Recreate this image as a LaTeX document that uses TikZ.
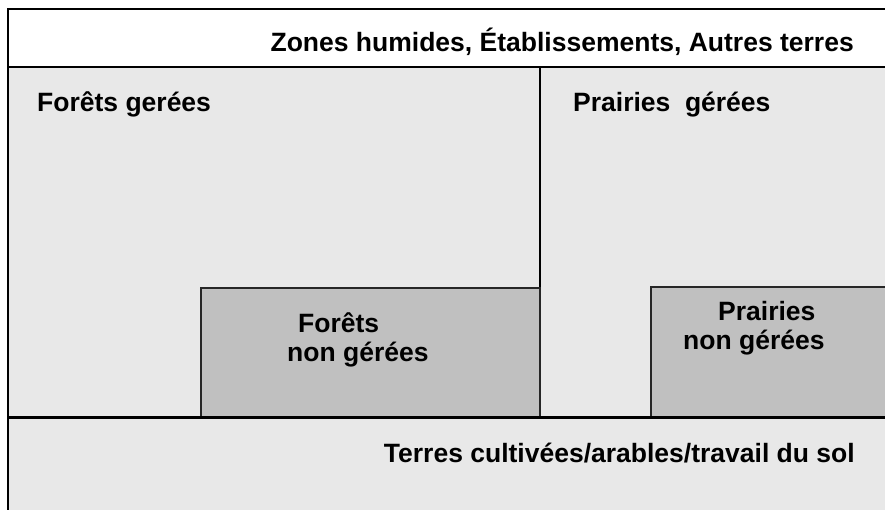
\documentclass[tikz,border=0pt]{standalone}
\usepackage{fontspec}
\setmainfont{Liberation Sans}
\usetikzlibrary{positioning}
\definecolor{zonegray}{HTML}{E8E8E8}
\definecolor{boxgray}{HTML}{C0C0C0}

\begin{document}
\begin{tikzpicture}[x=1pt,y=-1pt,
        frameline/.style={draw=black, line width=2.2pt},
        subbox/.style={fill=boxgray, draw=black!85, line width=1.8pt},
        lbl/.style={inner sep=0pt, font=\fontsize{26.5}{28.5}\selectfont\bfseries}]
    \useasboundingbox (0,0) rectangle (885,510);
    \clip (0,0) rectangle (885,510);
    % main zones
    \fill[zonegray] (8,67) rectangle (895,520);
    \draw[frameline] (8,520) -- (8,9) -- (895,9);
    \draw[frameline] (8,67) -- (895,67);
    \draw[frameline] (540,67) -- (540,417);
    % non managed parts
    \draw[subbox] (201,417) rectangle (540,288);
    \draw[subbox] (651,417) rectangle (895,287);
    \draw[draw=black, line width=3pt] (8,417) -- (895,417);

    \node[lbl, anchor=base east] (autres) at (854,52) {Zones humides, Établissements, Autres terres};
    \node[lbl, anchor=base west] (foretsG) at (37,112) {Forêts gerées};
    \node[lbl, anchor=base west] (prairiesG) at (573,112) {Prairies\hspace{0.55em}gérées};
    \node[lbl, anchor=base west, align=left] (foretsNG) at (287,361) {\hspace*{11pt}Forêts\\non gérées};
    \node[lbl, anchor=base west, align=left] (prairiesNG) at (683,349) {\hspace*{35pt}Prairies\\non gérées};
    \node[lbl, anchor=base east] (terres) at (855,462) {Terres cultivées/arables/travail du sol};
\end{tikzpicture}
\end{document}
